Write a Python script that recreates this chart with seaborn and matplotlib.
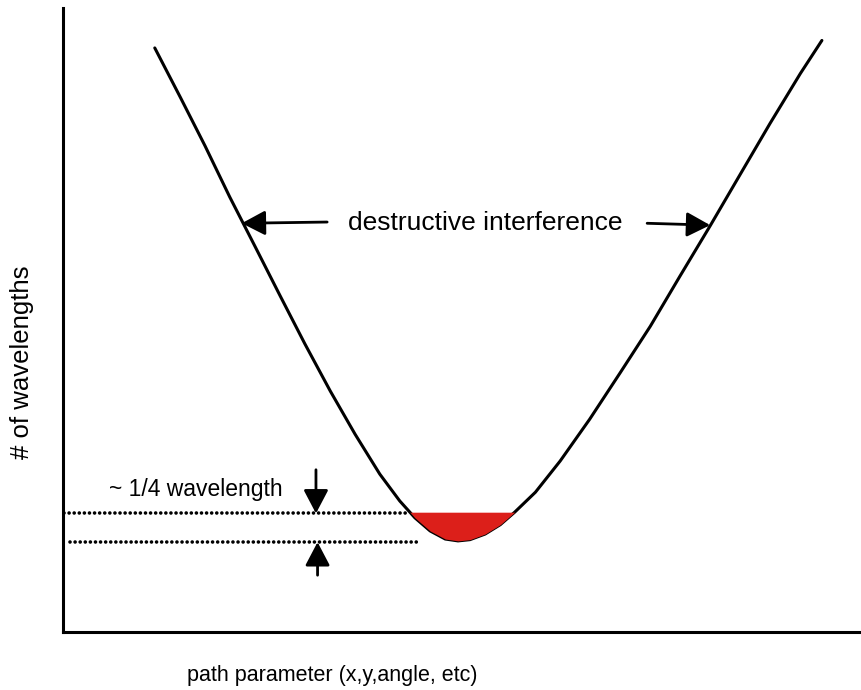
import numpy as np
import matplotlib
matplotlib.use('Agg')
import matplotlib.pyplot as plt
import seaborn as sns

# 곡선 데이터 (그림에서 읽은 값, 축 범위 0~100)
path_x = [11.5, 14.7, 17.8, 20.9, 24.1, 27.2, 30.3, 33.5, 36.6, 39.7, 42.2,
          44.1, 46.0, 47.9, 49.5, 51.0, 52.9, 54.8, 56.6, 59.2, 62.3, 66.0,
          69.8, 73.6, 77.3, 81.1, 84.8, 88.6, 92.4, 95.1]
n_wavelengths = [93.6, 85.7, 77.9, 69.7, 61.7, 53.9, 46.2, 38.6, 31.7, 25.3, 21.0,
                 18.3, 16.2, 14.9, 14.6, 14.8, 15.7, 17.2, 19.2, 22.4, 27.4, 34.1,
                 41.5, 49.0, 57.0, 65.1, 73.2, 81.5, 89.5, 94.8]

# 1/4 파장 기준선
quarter_top = 19.0
quarter_bottom = 14.4

sns.set_style('white')
plt.rcParams['font.family'] = ['Liberation Sans', 'DejaVu Sans']
plt.rcParams['text.color'] = 'black'

fig = plt.figure(figsize=(8.61, 6.9), dpi=100)
ax = fig.add_axes([63 / 861, 58 / 690, 798 / 861, 624 / 690])

sns.lineplot(x=path_x, y=n_wavelengths, color='black', linewidth=2.2,
             estimator=None, sort=False, ax=ax, zorder=3)

# 빨간 영역 (최소점 부근)
xs = np.array(path_x)
ys = np.array(n_wavelengths)
ax.fill_between(xs, ys, quarter_top + 0.2, where=ys < quarter_top + 0.2,
                interpolate=True, color='#dc1f1a', linewidth=0, zorder=4)

# 점선
dots = dict(color='black', lw=2.6, linestyle=(0, (0.01, 1.4)),
            dash_capstyle='round', zorder=2)
ax.plot([0.1, 43.1], [quarter_top, quarter_top], **dots)
ax.plot([0.9, 44.5], [quarter_bottom, quarter_bottom], **dots)

arrow = dict(arrowstyle='-|>,head_length=0.8,head_width=0.42', color='black',
             lw=2, mutation_scale=18, shrinkA=0, shrinkB=0)

# destructive interference 화살표
ax.annotate('', xy=(22.4, 65.5), xytext=(33.1, 65.7), arrowprops=arrow)
ax.annotate('', xy=(81.1, 65.2), xytext=(73.2, 65.5), arrowprops=arrow)
ax.text(52.9, 65.6, 'destructive interference', ha='center', va='center',
        fontsize=19, color='black')

# 1/4 wavelength 화살표
ax.annotate('', xy=(31.7, quarter_top), xytext=(31.7, 26.0), arrowprops=arrow)
ax.annotate('', xy=(31.9, quarter_bottom), xytext=(31.9, 9.1), arrowprops=arrow)
ax.text(5.8, 22.9, '~ 1/4 wavelength', ha='left', va='center', fontsize=16.5,
        color='black')

ax.set_xlim(0, 100)
ax.set_ylim(0, 100)
ax.set_xticks([])
ax.set_yticks([])
sns.despine(ax=ax)
for side in ['left', 'bottom']:
    ax.spines[side].set_linewidth(2.2)
    ax.spines[side].set_color('black')

fig.text(332 / 861, 1 - 675 / 690, 'path parameter (x,y,angle, etc)',
         ha='center', va='center', fontsize=15.5, color='black')
fig.text(22 / 861, 1 - 362 / 690, '# of wavelengths', ha='center', va='center',
         rotation=90, fontsize=18.5, color='black')

fig.savefig('out.png', dpi=100)
